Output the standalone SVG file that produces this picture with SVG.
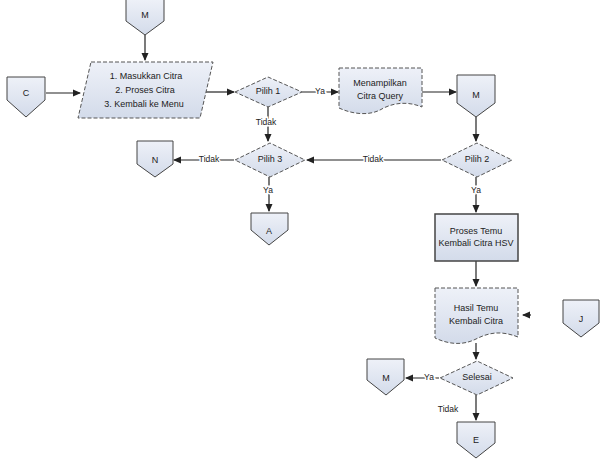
<svg xmlns="http://www.w3.org/2000/svg" width="600" height="464" viewBox="0 0 600 464">
<defs>
<marker id="ah" markerWidth="8" markerHeight="8" refX="7" refY="4" orient="auto" markerUnits="userSpaceOnUse">
<path d="M0,0.5 L8,4 L0,7.5 Z" fill="#222"/>
</marker>
<linearGradient id="g" x1="0" y1="0" x2="0" y2="1">
<stop offset="0" stop-color="#eef1f8"/>
<stop offset="1" stop-color="#d3dbea"/>
</linearGradient>
</defs>
<style>
.sh{fill:url(#g);stroke:#555;stroke-width:1;stroke-dasharray:4 2}
.cn{fill:url(#g);stroke:#444;stroke-width:1}
.pr{fill:url(#g);stroke:#444;stroke-width:1.5}
.t{font-family:"Liberation Sans",Arial,sans-serif;font-size:9px;fill:#222;text-anchor:middle;dominant-baseline:middle}
.l{font-family:"Liberation Sans",Arial,sans-serif;font-size:8.5px;fill:#222;text-anchor:middle;dominant-baseline:middle}
.ln{stroke:#222;stroke-width:1.2;fill:none}
</style>
<rect width="600" height="464" fill="#fff"/>
<g id="connectors">
<path class="ln" d="M145,35 V60" marker-end="url(#ah)"/>
<path class="ln" d="M46,93 H80" marker-end="url(#ah)"/>
<path class="ln" d="M206,92 H234" marker-end="url(#ah)"/>
<path class="ln" d="M302,92 H338" marker-end="url(#ah)"/>
<path class="ln" d="M422,92 H456" marker-end="url(#ah)"/>
<path class="ln" d="M476,117 V141" marker-end="url(#ah)"/>
<path class="ln" d="M268,106 V141" marker-end="url(#ah)"/>
<path class="ln" d="M441,160 H307" marker-end="url(#ah)"/>
<path class="ln" d="M234,160 H174" marker-end="url(#ah)"/>
<path class="ln" d="M269,177 V211" marker-end="url(#ah)"/>
<path class="ln" d="M476,177 V212" marker-end="url(#ah)"/>
<path class="ln" d="M476,261 V286" marker-end="url(#ah)"/>
<path class="ln" d="M531,315 H523" marker-end="url(#ah)"/>
<path class="ln" d="M476,343 V359" marker-end="url(#ah)"/>
<path class="ln" d="M439,378 H406" marker-end="url(#ah)"/>
<path class="ln" d="M476,395 V420" marker-end="url(#ah)"/>
<text class="l" x="320" y="92" style="paint-order:stroke;stroke:#fff;stroke-width:3">Ya</text>
<text class="l" x="266" y="123" style="paint-order:stroke;stroke:#fff;stroke-width:3">Tidak</text>
<text class="l" x="373" y="160" style="paint-order:stroke;stroke:#fff;stroke-width:3">Tidak</text>
<text class="l" x="209" y="160" style="paint-order:stroke;stroke:#fff;stroke-width:3">Tidak</text>
<text class="l" x="268" y="191" style="paint-order:stroke;stroke:#fff;stroke-width:3">Ya</text>
<text class="l" x="476" y="191" style="paint-order:stroke;stroke:#fff;stroke-width:3">Ya</text>
<text class="l" x="429" y="378" style="paint-order:stroke;stroke:#fff;stroke-width:3">Ya</text>
<text class="l" x="448" y="410">Tidak</text>
</g>
<g id="n-top"><path class="cn" d="M126,-1 H164 V21 L145,35 L126,21 Z"/><text class="t" x="145" y="16">M</text></g>
<g id="n-left"><path class="cn" d="M7,77 H45 V100 L26,117 L7,100 Z"/><text class="t" x="26" y="94">C</text></g>
<g id="menu"><path class="sh" d="M91,62 H213 L200,118 H78 Z"/>
<text class="t" x="146" y="77">1. Masukkan Citra</text>
<text class="t" x="145" y="91">2. Proses Citra</text>
<text class="t" x="144" y="105">3. Kembali ke Menu</text></g>
<g id="pilih1"><path class="sh" d="M235,92 L268,77 L302,92 L268,107 Z"/><text class="t" x="268" y="92">Pilih 1</text></g>
<g id="tampil"><path class="sh" d="M339,68 H422 V107 C405,100 390,104 380,110 C368,116 352,114 339,108 Z"/>
<text class="t" x="380" y="84">Menampilkan</text><text class="t" x="380" y="97">Citra Query</text></g>
<g id="n-right"><path class="cn" d="M457,75 H495 V103 L476,117 L457,103 Z"/><text class="t" x="476" y="96">M</text></g>
<g id="pilih2"><path class="sh" d="M442,160 L477,143 L512,160 L477,177 Z"/><text class="t" x="477" y="160">Pilih 2</text></g>
<g id="pilih3"><path class="sh" d="M235,160 L270,143 L305,160 L270,177 Z"/><text class="t" x="270" y="160">Pilih 3</text></g>
<g id="n-n"><path class="cn" d="M137,141 H173 V164 L155,177 L137,164 Z"/><text class="t" x="155" y="161">N</text></g>
<g id="n-a"><path class="cn" d="M251,213 H288 V230 L269,245 L251,230 Z"/><text class="t" x="269" y="232">A</text></g>
<g id="proses"><rect class="pr" x="435" y="214" width="83" height="47"/>
<text class="t" x="476" y="232">Proses Temu</text><text class="t" x="476" y="244">Kembali Citra HSV</text></g>
<g id="hasil"><path class="sh" d="M435,288 H518 V337 C500,330 488,333 476,339 C462,346 448,344 435,338 Z"/>
<text class="t" x="476" y="309">Hasil Temu</text><text class="t" x="476" y="322">Kembali Citra</text></g>
<g id="n-j"><path class="cn" d="M563,300 H599 V323 L581,337 L563,323 Z"/><text class="t" x="581" y="320">J</text></g>
<g id="selesai"><path class="sh" d="M440,378 L477,361 L513,378 L477,395 Z"/><text class="t" x="477" y="378">Selesai</text></g>
<g id="n-m2"><path class="cn" d="M367,359 H404 V380 L386,395 L367,380 Z"/><text class="t" x="386" y="379">M</text></g>
<g id="n-e"><path class="cn" d="M457,422 H495 V443 L476,458 L457,443 Z"/><text class="t" x="476" y="441">E</text></g>
</svg>
